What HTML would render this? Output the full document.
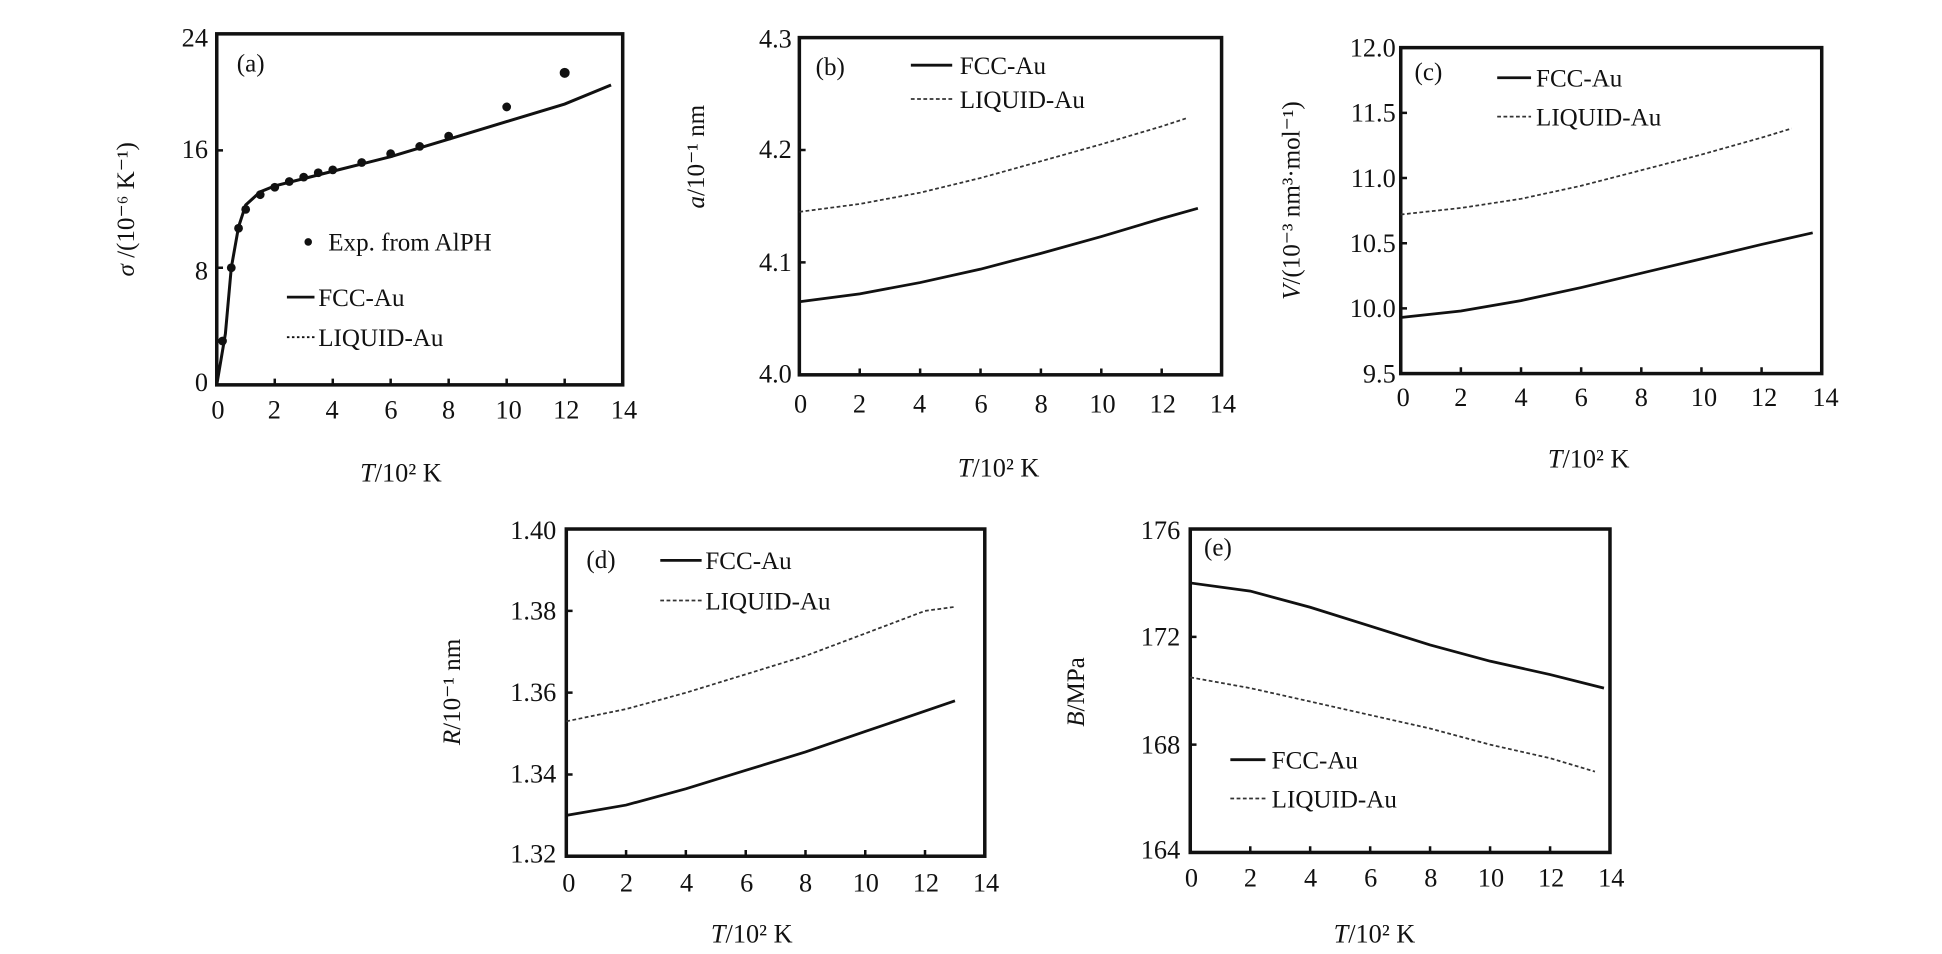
<!DOCTYPE html>
<html><head><meta charset="utf-8"><style>
html,body{margin:0;padding:0;background:#fff;}
svg{display:block;}
text{font-family:"Liberation Serif",serif;fill:#111;}
.t{font-size:21px;}
.l{font-size:20px;}
</style></head><body>
<svg width="1942" height="954" viewBox="0 0 1550 761" preserveAspectRatio="none" xmlns="http://www.w3.org/2000/svg">
<g fill="none" stroke="#111" stroke-width="2.8">
<rect x="173" y="27" width="324" height="280"/>
<rect x="638" y="30" width="337" height="269"/>
<rect x="1118" y="38" width="336" height="260"/>
<rect x="452" y="422" width="334" height="261"/>
<rect x="950" y="422" width="335" height="258"/>
</g>
<g stroke="#111" stroke-width="2">
<path d="M173 307v-5M219.3 307v-5M265.6 307v-5M311.8 307v-5M358.1 307v-5M404.4 307v-5M450.7 307v-5M173 213.6h5M173 120h5"/>
<path d="M686.2 299v-5M734.4 299v-5M782.6 299v-5M830.8 299v-5M879 299v-5M927.2 299v-5M638 209.3h5M638 119.7h5"/>
<path d="M1166 298v-5M1214 298v-5M1262 298v-5M1310 298v-5M1358 298v-5M1406 298v-5M1118 246h5M1118 194h5M1118 142h5M1118 90h5"/>
<path d="M499.7 683v-5M547.4 683v-5M595.2 683v-5M642.9 683v-5M690.6 683v-5M738.3 683v-5M452 617.8h5M452 552.5h5M452 487.3h5"/>
<path d="M997.9 680v-5M1045.7 680v-5M1093.6 680v-5M1141.4 680v-5M1189.3 680v-5M1237.2 680v-5M950 594h5M950 508h5"/>
</g>
<polyline fill="none" stroke="#111" stroke-width="2.4" points="173,307 179.9,266.2 184.6,213.6 190.4,181 196.1,163.5 207.7,153 219.3,148.3 242.4,142.5 265.6,136.6 311.8,125 358.1,111 404.4,97 450.7,83 487.7,67.8"/>
<g fill="#111">
<circle cx="177.6" cy="272" r="3.5"/><circle cx="184.6" cy="213.6" r="3.5"/><circle cx="190.4" cy="182.1" r="3.5"/><circle cx="196.1" cy="167" r="3.5"/><circle cx="207.7" cy="155.3" r="3.5"/><circle cx="219.3" cy="149.4" r="3.5"/><circle cx="230.9" cy="144.8" r="3.5"/><circle cx="242.4" cy="141.3" r="3.5"/><circle cx="254" cy="137.8" r="3.5"/><circle cx="265.6" cy="135.5" r="3.5"/><circle cx="288.7" cy="129.6" r="3.5"/><circle cx="311.8" cy="122.6" r="3.5"/><circle cx="335" cy="116.8" r="3.5"/><circle cx="358.1" cy="108.6" r="3.5"/><circle cx="404.4" cy="85.3" r="3.5"/><circle cx="450.7" cy="58.1" r="4"/>
<circle cx="246" cy="193" r="3"/>
</g>
<path d="M229 237h22" stroke="#111" stroke-width="2.2"/>
<path d="M229 269h22" stroke="#111" stroke-width="1.5" stroke-dasharray="2,2"/>
<text class="l" x="262" y="200">Exp. from AlPH</text>
<text class="l" x="254" y="244">FCC-Au</text>
<text class="l" x="254" y="276">LIQUID-Au</text>
<text class="l" x="189" y="57">(a)</text>
<g class="t" text-anchor="end"><text x="166" y="37">24</text><text x="166" y="126">16</text><text x="166" y="223">8</text><text x="166" y="312">0</text></g>
<g class="t" text-anchor="middle"><text x="174" y="334">0</text><text x="219" y="334">2</text><text x="265" y="334">4</text><text x="312" y="334">6</text><text x="358" y="334">8</text><text x="406" y="334">10</text><text x="452" y="334">12</text><text x="498" y="334">14</text></g>
<text class="t" x="320" y="384" text-anchor="middle"><tspan font-style="italic">T</tspan>/10² K</text>
<text class="l" transform="translate(107,167) rotate(-90)" text-anchor="middle"><tspan font-style="italic">σ</tspan> /(10⁻⁶ K⁻¹)</text>
<polyline fill="none" stroke="#111" stroke-width="2.2" points="638,240.7 686.2,234.4 734.4,225.4 782.6,214.7 830.8,202.1 879,188.7 927.2,174.3 956.1,166.2"/>
<polyline fill="none" stroke="#333" stroke-width="1.4" stroke-dasharray="3,2" points="638,169 686.2,162.7 734.4,153.7 782.6,142 830.8,128.6 879,115.1 927.2,100.8 946.5,94.5"/>
<path d="M727 52h33" stroke="#111" stroke-width="2.2"/>
<path d="M727 79h33" stroke="#333" stroke-width="1.4" stroke-dasharray="3,2"/>
<text class="l" x="766" y="59">FCC-Au</text>
<text class="l" x="766" y="86">LIQUID-Au</text>
<text class="l" x="651" y="60">(b)</text>
<g class="t" text-anchor="end"><text x="632" y="38">4.3</text><text x="632" y="126">4.2</text><text x="632" y="216">4.1</text><text x="632" y="305">4.0</text></g>
<g class="t" text-anchor="middle"><text x="639" y="329">0</text><text x="686" y="329">2</text><text x="734" y="329">4</text><text x="783" y="329">6</text><text x="831" y="329">8</text><text x="880" y="329">10</text><text x="928" y="329">12</text><text x="976" y="329">14</text></g>
<text class="t" x="797" y="380" text-anchor="middle"><tspan font-style="italic">T</tspan>/10² K</text>
<text class="l" transform="translate(562,125) rotate(-90)" text-anchor="middle"><tspan font-style="italic">a</tspan>/10⁻¹ nm</text>
<polyline fill="none" stroke="#111" stroke-width="2.2" points="1118,253.3 1166,248.1 1214,239.8 1262,229.4 1310,217.9 1358,206.5 1406,195 1446.8,185.7"/>
<polyline fill="none" stroke="#333" stroke-width="1.4" stroke-dasharray="3,2" points="1118,171.1 1166,165.9 1214,158.6 1262,148.2 1310,135.8 1358,123.3 1406,109.8 1430,102.5"/>
<path d="M1195 62h27" stroke="#111" stroke-width="2.2"/>
<path d="M1195 93h27" stroke="#333" stroke-width="1.4" stroke-dasharray="3,2"/>
<text class="l" x="1226" y="69">FCC-Au</text>
<text class="l" x="1226" y="100">LIQUID-Au</text>
<text class="l" x="1129" y="64">(c)</text>
<g class="t" text-anchor="end"><text x="1114" y="45">12.0</text><text x="1114" y="97">11.5</text><text x="1114" y="149">11.0</text><text x="1114" y="201">10.5</text><text x="1114" y="253">10.0</text><text x="1114" y="305">9.5</text></g>
<g class="t" text-anchor="middle"><text x="1120" y="324">0</text><text x="1166" y="324">2</text><text x="1214" y="324">4</text><text x="1262" y="324">6</text><text x="1310" y="324">8</text><text x="1360" y="324">10</text><text x="1408" y="324">12</text><text x="1457" y="324">14</text></g>
<text class="t" x="1268" y="373" text-anchor="middle"><tspan font-style="italic">T</tspan>/10² K</text>
<text class="l" transform="translate(1037,160) rotate(-90)" text-anchor="middle"><tspan font-style="italic">V</tspan>/(10⁻³ nm³·mol⁻¹)</text>
<polyline fill="none" stroke="#111" stroke-width="2.2" points="452,650.4 499.7,642.2 547.4,629.2 595.2,614.5 642.9,599.8 690.6,583.5 738.3,567.2 762.2,559"/>
<polyline fill="none" stroke="#333" stroke-width="1.4" stroke-dasharray="3,2" points="452,575.4 499.7,565.6 547.4,552.6 595.2,537.9 642.9,523.2 690.6,505.3 738.3,487.3 762.2,484.1"/>
<path d="M527 447h33" stroke="#111" stroke-width="2.2"/>
<path d="M527 479h33" stroke="#333" stroke-width="1.4" stroke-dasharray="3,2"/>
<text class="l" x="563" y="454">FCC-Au</text>
<text class="l" x="563" y="486">LIQUID-Au</text>
<text class="l" x="468" y="453">(d)</text>
<g class="t" text-anchor="end"><text x="444" y="430">1.40</text><text x="444" y="494">1.38</text><text x="444" y="559">1.36</text><text x="444" y="624">1.34</text><text x="444" y="688">1.32</text></g>
<g class="t" text-anchor="middle"><text x="454" y="711">0</text><text x="500" y="711">2</text><text x="548" y="711">4</text><text x="596" y="711">6</text><text x="643" y="711">8</text><text x="691" y="711">10</text><text x="739" y="711">12</text><text x="787" y="711">14</text></g>
<text class="t" x="600" y="752" text-anchor="middle"><tspan font-style="italic">T</tspan>/10² K</text>
<text class="l" transform="translate(367,552) rotate(-90)" text-anchor="middle"><tspan font-style="italic">R</tspan>/10⁻¹ nm</text>
<polyline fill="none" stroke="#111" stroke-width="2.2" points="950,465 997.9,471.5 1045.7,484.4 1093.6,499.4 1141.4,514.5 1189.3,527.4 1237.2,538.1 1280.2,548.9"/>
<polyline fill="none" stroke="#333" stroke-width="1.4" stroke-dasharray="3,2" points="950,540.3 997.9,548.9 1045.7,559.6 1093.6,570.4 1141.4,581.1 1189.3,594 1237.2,604.8 1273,615.5"/>
<path d="M982 606h28" stroke="#111" stroke-width="2.2"/>
<path d="M982 637h28" stroke="#333" stroke-width="1.4" stroke-dasharray="3,2"/>
<text class="l" x="1015" y="613">FCC-Au</text>
<text class="l" x="1015" y="644">LIQUID-Au</text>
<text class="l" x="961" y="443">(e)</text>
<g class="t" text-anchor="end"><text x="942" y="430">176</text><text x="942" y="515">172</text><text x="942" y="601">168</text><text x="942" y="685">164</text></g>
<g class="t" text-anchor="middle"><text x="951" y="707">0</text><text x="998" y="707">2</text><text x="1046" y="707">4</text><text x="1094" y="707">6</text><text x="1142" y="707">8</text><text x="1190" y="707">10</text><text x="1238" y="707">12</text><text x="1286" y="707">14</text></g>
<text class="t" x="1097" y="752" text-anchor="middle"><tspan font-style="italic">T</tspan>/10² K</text>
<text class="l" transform="translate(865,552) rotate(-90)" text-anchor="middle"><tspan font-style="italic">B</tspan>/MPa</text>
</svg>
</body></html>
